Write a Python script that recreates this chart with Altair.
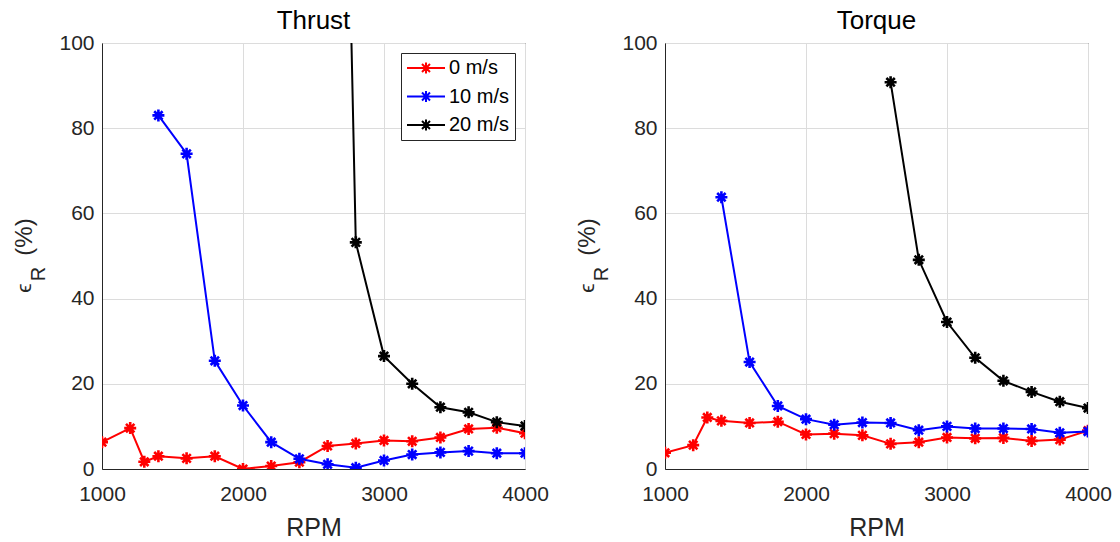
import altair as alt
import pandas as pd

# ---------------- data ----------------
rpm_0 = [1000, 1200, 1300, 1400, 1600, 1800, 2000, 2200, 2400, 2600, 2800, 3000, 3200, 3400, 3600, 3800, 4000]
rpm_10 = [1400, 1600, 1800, 2000, 2200, 2400, 2600, 2800, 3000, 3200, 3400, 3600, 3800, 4000]
rpm_20 = [2600, 2800, 3000, 3200, 3400, 3600, 3800, 4000]

thrust_0 = [6.3, 9.6, 1.7, 3.0, 2.5, 3.0, 0.0, 0.7, 1.6, 5.4, 6.0, 6.7, 6.5, 7.4, 9.4, 9.7, 8.4]
thrust_10 = [83.0, 74.0, 25.4, 14.9, 6.3, 2.4, 1.1, 0.3, 2.0, 3.4, 3.9, 4.2, 3.7, 3.7]
thrust_20 = [358.0, 53.2, 26.5, 20.0, 14.5, 13.3, 11.0, 10.1]

torque_0 = [3.8, 5.6, 12.1, 11.3, 10.8, 11.1, 8.1, 8.3, 7.9, 5.9, 6.3, 7.4, 7.2, 7.3, 6.6, 6.9, 9.0]
torque_10 = [63.8, 25.1, 14.8, 11.7, 10.4, 10.9, 10.8, 9.1, 10.0, 9.5, 9.5, 9.4, 8.5, 8.8]
torque_20 = [90.8, 49.1, 34.5, 26.1, 20.7, 18.1, 15.8, 14.3]

speeds = ["0 m/s", "10 m/s", "20 m/s"]
colors = ["#ff0000", "#0000ff", "#000000"]
y_ticks = [0, 20, 40, 60, 80, 100]
x_ticks = [1000, 2000, 3000, 4000]


def make_df(series):
    rows = []
    for speed, rpms, vals in series:
        for r, v in zip(rpms, vals):
            rows.append({"rpm": r, "err": v, "speed": speed})
    return pd.DataFrame(rows)


thrust_df = make_df([(speeds[0], rpm_0, thrust_0), (speeds[1], rpm_10, thrust_10), (speeds[2], rpm_20, thrust_20)])
torque_df = make_df([(speeds[0], rpm_0, torque_0), (speeds[1], rpm_10, torque_10), (speeds[2], rpm_20, torque_20)])

FONT = "Liberation Sans"
AST = "M-1,0L1,0M0,-1L0,1M-0.7,-0.7L0.7,0.7M-0.7,0.7L0.7,-0.7"
# legend symbol: a line with an asterisk on it (size 100 -> unit = 5 px)
LEG_SYM = "M-3.8,0L3.8,0M0,-1.1L0,1.1M-1.1,0L1.1,0M-0.8,-0.8L0.8,0.8M-0.8,0.8L0.8,-0.8"

W, H = 423, 426
TXT = "#262626"


def panel(df, title, show_legend):
    legend = alt.Legend(
        title=None, orient="top-right", offset=10,
        strokeColor=TXT, fillColor="white", padding=5,
        labelFontSize=20, labelFont=FONT, labelColor="#000000",
        symbolType=LEG_SYM, symbolSize=100, symbolStrokeWidth=2,
        rowPadding=8.5, labelOffset=13, symbolOffset=10,
    ) if show_legend else None
    color = alt.Color("speed:N", scale=alt.Scale(domain=speeds, range=colors), legend=legend,
                      sort=speeds)
    x = alt.X("rpm:Q", scale=alt.Scale(domain=[1000, 4000], nice=False),
              axis=alt.Axis(values=x_ticks, format="d", title="RPM", grid=True, labelFlush=False))
    y = alt.Y("err:Q", scale=alt.Scale(domain=[0, 100], nice=False),
              axis=alt.Axis(values=y_ticks, title=None, grid=True))
    base = alt.Chart(df).encode(x=x, y=y, color=color, order=alt.Order("rpm:Q"))
    line = base.mark_line(strokeWidth=2, clip=True)
    pts = base.mark_point(shape=AST, filled=False, size=144, strokeWidth=2.6, opacity=1, clip=True)

    eps = alt.Chart(pd.DataFrame({"t": ["ϵ"]})).mark_text(
        angle=270, fontSize=21, font=FONT, color=TXT, align="center", baseline="middle"
    ).encode(text="t:N", x=alt.value(-77), y=alt.value(245))
    sub = alt.Chart(pd.DataFrame({"t": ["R"]})).mark_text(
        angle=270, fontSize=20, font=FONT, color=TXT, align="center", baseline="middle"
    ).encode(text="t:N", x=alt.value(-63), y=alt.value(231))
    pct = alt.Chart(pd.DataFrame({"t": ["(%)"]})).mark_text(
        angle=270, fontSize=24, font=FONT, color=TXT, align="center", baseline="middle"
    ).encode(text="t:N", x=alt.value(-77), y=alt.value(194))

    return alt.layer(line, pts, eps, sub, pct).properties(
        width=W, height=H,
        title=alt.TitleParams(title, fontSize=26, fontWeight="normal", font=FONT, color="#000000",
                              offset=-2),
    )


chart = alt.hconcat(
    panel(thrust_df, "Thrust", True),
    panel(torque_df, "Torque", False),
    spacing=26,
).resolve_legend(color="independent").resolve_scale(color="independent").properties(
    padding={"left": 12, "top": 7, "right": 5, "bottom": 5},
    background="white",
).configure_view(
    stroke=TXT, strokeWidth=1
).configure_axis(
    labelFont=FONT, labelFontSize=21, labelColor=TXT,
    titleFont=FONT, titleFontSize=25, titleColor=TXT, titleFontWeight="normal",
    domainColor=TXT, domainWidth=1,
    gridColor="#dcdcdc", gridWidth=1,
    ticks=False, labelPadding=8,
).configure_axisX(
    labelPadding=14, titlePadding=11,
)

chart.save("out.html", embed_options={"renderer": "svg", "actions": False})
